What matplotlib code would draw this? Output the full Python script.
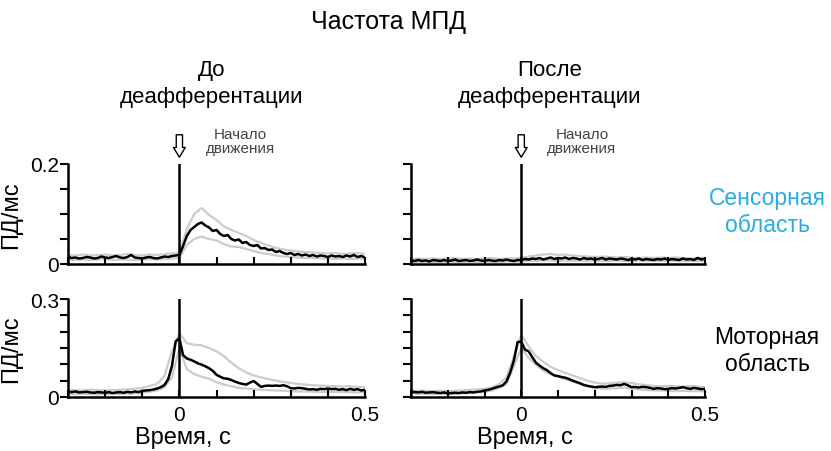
import numpy as np
import matplotlib
matplotlib.use("Agg")
import matplotlib.pyplot as plt

plt.rcParams['font.family'] = ['Liberation Sans', 'DejaVu Sans']

# time axis, s (black traces at 10 ms bins, grey SEM traces at 20 ms bins)
t_fine = np.round(np.arange(-30, 51) / 100.0, 2)
t_coarse = np.round(np.arange(-30, 51, 2) / 100.0, 2)

# sensory area, before deafferentation (spikes/ms)
sens_before = [
    0.014, 0.012, 0.013, 0.011, 0.012, 0.014, 0.013, 0.011, 0.012, 0.015,
    0.013, 0.012, 0.014, 0.016, 0.013, 0.012, 0.014, 0.018, 0.013, 0.012,
    0.011, 0.013, 0.014, 0.012, 0.011, 0.013, 0.015, 0.014, 0.016, 0.017,
    0.018,
    0.036, 0.056, 0.068, 0.074, 0.080, 0.083, 0.077, 0.073, 0.066, 0.068,
    0.060, 0.056, 0.058, 0.050, 0.047, 0.049, 0.042, 0.044, 0.038, 0.036,
    0.038, 0.031, 0.032, 0.028, 0.029, 0.024, 0.026, 0.022, 0.020, 0.022,
    0.018, 0.020, 0.017, 0.019, 0.016, 0.018, 0.015, 0.017, 0.016, 0.014,
    0.017, 0.015, 0.016, 0.014, 0.017, 0.015, 0.018, 0.014, 0.016, 0.013,
]
sens_before_hi = [
    0.018, 0.017, 0.019, 0.017, 0.018, 0.019, 0.017, 0.018, 0.020, 0.018,
    0.017, 0.019, 0.018, 0.020, 0.021,
    0.022, 0.070, 0.100, 0.112, 0.098, 0.088, 0.075, 0.068, 0.062, 0.056,
    0.048, 0.042, 0.037, 0.032, 0.029, 0.027, 0.025, 0.024, 0.023, 0.022,
    0.021, 0.022, 0.020, 0.021, 0.022, 0.020,
]
sens_before_lo = [
    0.009, 0.008, 0.009, 0.008, 0.009, 0.010, 0.008, 0.009, 0.009, 0.008,
    0.009, 0.010, 0.009, 0.010, 0.011,
    0.012, 0.038, 0.050, 0.055, 0.050, 0.047, 0.040, 0.035, 0.034, 0.030,
    0.026, 0.022, 0.020, 0.017, 0.015, 0.014, 0.013, 0.012, 0.012, 0.011,
    0.011, 0.010, 0.011, 0.010, 0.011, 0.010,
]

# sensory area, after deafferentation
sens_after = [
    0.007, 0.006, 0.008, 0.006, 0.007, 0.005, 0.008, 0.007, 0.006, 0.008,
    0.006, 0.007, 0.009, 0.006, 0.007, 0.008, 0.006, 0.007, 0.009, 0.007,
    0.006, 0.008, 0.007, 0.006, 0.008, 0.007, 0.009, 0.007, 0.006, 0.008,
    0.008,
    0.010, 0.009, 0.011, 0.010, 0.012, 0.009, 0.011, 0.013, 0.010, 0.012,
    0.011, 0.013, 0.010, 0.012, 0.011, 0.009, 0.012, 0.010, 0.011, 0.009,
    0.010, 0.012, 0.009, 0.011, 0.010, 0.009, 0.011, 0.010, 0.008, 0.010,
    0.009, 0.011, 0.008, 0.010, 0.009, 0.008, 0.010, 0.009, 0.011, 0.008,
    0.010, 0.009, 0.008, 0.011, 0.009, 0.010, 0.008, 0.012, 0.009, 0.011,
]
sens_after_hi = [
    0.010, 0.011, 0.010, 0.011, 0.010, 0.011, 0.012, 0.010, 0.011, 0.010,
    0.011, 0.012, 0.010, 0.011, 0.011,
    0.012, 0.015, 0.017, 0.019, 0.020, 0.018, 0.019, 0.017, 0.016, 0.015,
    0.014, 0.015, 0.014, 0.013, 0.014, 0.013, 0.012, 0.013, 0.012, 0.013,
    0.012, 0.013, 0.012, 0.011, 0.012, 0.012,
]
sens_after_lo = [
    0.004, 0.004, 0.005, 0.004, 0.004, 0.005, 0.004, 0.004, 0.005, 0.004,
    0.005, 0.004, 0.004, 0.005, 0.005,
    0.005, 0.006, 0.006, 0.007, 0.007, 0.006, 0.007, 0.006, 0.007, 0.006,
    0.007, 0.006, 0.006, 0.007, 0.006, 0.006, 0.007, 0.006, 0.006, 0.006,
    0.007, 0.006, 0.006, 0.006, 0.006, 0.006,
]

# motor area, before deafferentation
motor_before = [
    0.016, 0.015, 0.017, 0.014, 0.015, 0.016, 0.014, 0.013, 0.015, 0.014,
    0.013, 0.015, 0.012, 0.014, 0.015, 0.013, 0.016, 0.014, 0.017, 0.015,
    0.019, 0.020, 0.021, 0.023, 0.026, 0.030, 0.037, 0.055, 0.095, 0.170,
    0.180,
    0.128, 0.118, 0.114, 0.109, 0.103, 0.099, 0.094, 0.088, 0.080, 0.068,
    0.062, 0.057, 0.056, 0.052, 0.047, 0.043, 0.040, 0.038, 0.044, 0.049,
    0.040, 0.031, 0.034, 0.035, 0.034, 0.035, 0.034, 0.036, 0.033, 0.027,
    0.026, 0.028, 0.027, 0.025, 0.023, 0.024, 0.022, 0.025, 0.024, 0.026,
    0.024, 0.025, 0.022, 0.024, 0.021, 0.025, 0.022, 0.024, 0.020, 0.022,
]
motor_before_hi = [
    0.022, 0.021, 0.020, 0.022, 0.021, 0.020, 0.021, 0.022, 0.023, 0.025,
    0.028, 0.034, 0.040, 0.065, 0.140,
    0.195, 0.165, 0.160, 0.158, 0.150, 0.140, 0.125, 0.105, 0.088, 0.075,
    0.066, 0.060, 0.055, 0.050, 0.046, 0.043, 0.040, 0.038, 0.036, 0.035,
    0.034, 0.033, 0.032, 0.033, 0.031, 0.030,
]
motor_before_lo = [
    0.010, 0.009, 0.010, 0.009, 0.008, 0.009, 0.010, 0.009, 0.010, 0.011,
    0.013, 0.016, 0.020, 0.030, 0.060,
    0.150, 0.085, 0.070, 0.062, 0.056, 0.045, 0.038, 0.033, 0.028, 0.026,
    0.024, 0.022, 0.021, 0.020, 0.019, 0.018, 0.017, 0.017, 0.016, 0.016,
    0.015, 0.016, 0.015, 0.015, 0.014, 0.015,
]

# motor area, after deafferentation
motor_after = [
    0.016, 0.015, 0.014, 0.016, 0.013, 0.014, 0.015, 0.013, 0.012, 0.014,
    0.011, 0.012, 0.013, 0.012, 0.014, 0.013, 0.015, 0.014, 0.016, 0.017,
    0.020, 0.022, 0.025, 0.029, 0.032, 0.036, 0.048, 0.075, 0.112, 0.168,
    0.170,
    0.145, 0.140, 0.122, 0.105, 0.096, 0.088, 0.082, 0.073, 0.066, 0.064,
    0.061, 0.059, 0.055, 0.050, 0.046, 0.042, 0.037, 0.034, 0.032, 0.030,
    0.031, 0.032, 0.031, 0.034, 0.035, 0.037, 0.036, 0.040, 0.036, 0.030,
    0.031, 0.029, 0.031, 0.030, 0.028, 0.025, 0.027, 0.026, 0.024, 0.025,
    0.027, 0.026, 0.028, 0.030, 0.027, 0.025, 0.028, 0.026, 0.024, 0.025,
]
motor_after_hi = [
    0.020, 0.019, 0.019, 0.018, 0.019, 0.018, 0.019, 0.020, 0.022, 0.023,
    0.025, 0.029, 0.040, 0.060, 0.125,
    0.190, 0.155, 0.125, 0.108, 0.092, 0.082, 0.074, 0.066, 0.058, 0.050,
    0.044, 0.041, 0.042, 0.044, 0.045, 0.043, 0.039, 0.036, 0.034, 0.033,
    0.034, 0.033, 0.032, 0.034, 0.032, 0.030,
]
motor_after_lo = [
    0.011, 0.010, 0.010, 0.009, 0.010, 0.009, 0.010, 0.011, 0.012, 0.014,
    0.016, 0.020, 0.028, 0.040, 0.095,
    0.150, 0.120, 0.098, 0.080, 0.070, 0.062, 0.054, 0.047, 0.040, 0.034,
    0.028, 0.025, 0.026, 0.027, 0.029, 0.026, 0.023, 0.021, 0.020, 0.020,
    0.019, 0.018, 0.019, 0.018, 0.018, 0.017,
]

col_titles = ["До\nдеафферентации", "После\nдеафферентации"]
row_labels = ["Сенсорная\nобласть", "Моторная\nобласть"]
row_colors = ["#27ade3", "black"]
ymax = [0.2, 0.3]
ytop_labels = ["0.2", "0.3"]

panels = [
    [(sens_before, sens_before_hi, sens_before_lo),
     (sens_after, sens_after_hi, sens_after_lo)],
    [(motor_before, motor_before_hi, motor_before_lo),
     (motor_after, motor_after_hi, motor_after_lo)],
]

W, H = 831, 452
fig = plt.figure(figsize=(W / 100, H / 100), dpi=100)

# axes boxes in pixels: (left, right) per column, (top, bottom) per row
col_px = [(68, 365), (411, 705)]
row_px = [(165, 265), (300, 398)]
col_title_x = [212, 550]

for r in range(2):
    for c in range(2):
        x0, x1 = col_px[c]
        y0, y1 = row_px[r]
        ax = fig.add_axes([x0 / W, 1 - y1 / H, (x1 - x0) / W, (y1 - y0) / H])
        mean, hi, lo = panels[r][c]

        ax.plot(t_coarse, hi, color="#cccccc", lw=1.6, zorder=1)
        ax.plot(t_coarse, lo, color="#cccccc", lw=1.6, zorder=1)
        ax.plot(t_fine, mean, color="black", lw=1.8, zorder=3)
        ax.axvline(0, ymin=0, ymax=1, color="black", lw=1.8, zorder=4)

        ax.set_xlim(-0.3, 0.5)
        ax.set_ylim(0, ymax[r])
        for s in ["top", "right"]:
            ax.spines[s].set_visible(False)
        for s in ["left", "bottom"]:
            ax.spines[s].set_linewidth(1.8)

        ax.set_xticks(np.round(np.arange(-3, 6) / 10.0, 1))
        ax.set_yticks(np.linspace(0, ymax[r], 5 if r == 0 else 7))
        ax.tick_params(axis="x", direction="in", length=5, width=1.5)
        ax.tick_params(axis="y", direction="out", length=5.5, width=1.5)

        if r == 1:
            ax.set_xticklabels(["", "", "", "0", "", "", "", "", "0.5"],
                               fontsize=15)
            ax.tick_params(axis="x", pad=6)
            # axis title sits under the zero mark
            xc = ax.transData.transform((0.01, 0))[0] / W
            fig.text(xc, 1 - 438 / H, "Время, с", ha="center", va="center",
                     fontsize=17)
        else:
            ax.set_xticklabels([])

        if c == 0:
            labels = [""] * len(ax.get_yticks())
            labels[0] = "0"
            labels[-1] = ytop_labels[r]
            ax.set_yticklabels(labels, fontsize=15)
            ax.tick_params(axis="y", pad=1)
            ax.set_ylabel("ПД/мс", fontsize=17)
            ax.yaxis.set_label_coords(-0.155, 0.5)
        else:
            ax.set_yticklabels([])

        if r == 0:
            # movement onset marker
            ax.annotate("", xy=(0, 1.04), xycoords=("data", "axes fraction"),
                        xytext=(0, 1.32), textcoords=("data", "axes fraction"),
                        arrowprops=dict(arrowstyle="simple,head_length=0.7,"
                                        "head_width=0.85,tail_width=0.45",
                                        fc="white", ec="black", lw=1.0),
                        annotation_clip=False)
            ax.text(0.165, 1.23, "Начало\nдвижения",
                    transform=ax.get_xaxis_transform(),
                    ha="center", va="center", fontsize=11, color="#444444",
                    linespacing=1.05)

# figure title, column titles and row labels
fig.text(389 / W, 1 - 22 / H, "Частота МПД", ha="center", va="center",
         fontsize=18)
for c in range(2):
    fig.text(col_title_x[c] / W, 1 - 84 / H, col_titles[c], ha="center",
             va="center", fontsize=16, linespacing=1.4)
fig.text(767 / W, 1 - 212 / H, row_labels[0], ha="center", va="center",
         fontsize=16.5, color=row_colors[0], linespacing=1.25)
fig.text(767 / W, 1 - 351 / H, row_labels[1], ha="center", va="center",
         fontsize=16.5, color=row_colors[1], linespacing=1.25)

fig.savefig("out.png", dpi=100, facecolor="white")
